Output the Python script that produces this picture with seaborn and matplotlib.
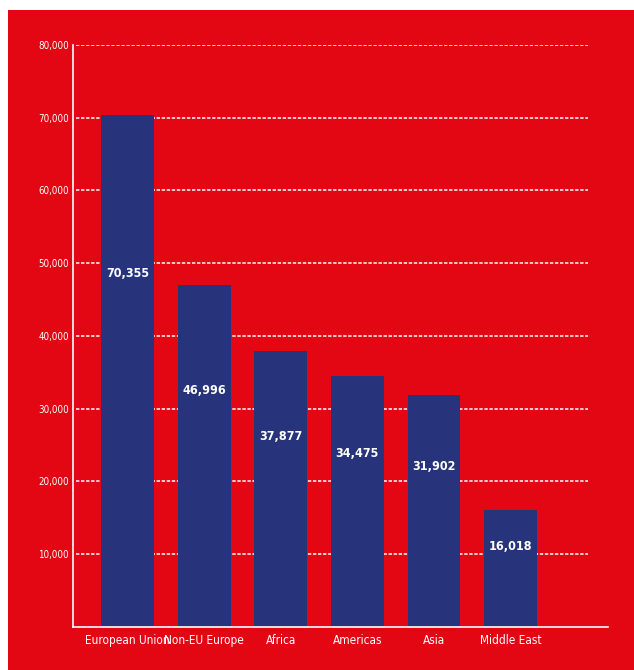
import matplotlib
matplotlib.use("Agg")
import matplotlib.pyplot as plt
from matplotlib.patches import Rectangle
from matplotlib.ticker import FuncFormatter
import pandas as pd
import seaborn as sns

# Data
regions = ["European Union", "Non-EU Europe", "Africa", "Americas", "Asia", "Middle East"]
values = [70355, 46996, 37877, 34475, 31902, 16018]
y_ticks = [10000, 20000, 30000, 40000, 50000, 60000, 70000, 80000]

RED = "#e30713"
NAVY = "#27347b"
WHITE = "#ffffff"
FONT = ["DejaVu Sans"]

df = pd.DataFrame({"region": regions, "value": values})

sns.set_theme(style="white")
plt.rcParams["font.family"] = FONT
plt.rcParams["font.stretch"] = "condensed"

W, H = 634, 670
fig = plt.figure(figsize=(W / 100, H / 100), dpi=100, facecolor="white")

# red panel with a thin white margin at top and left
fig.patches.append(Rectangle((8 / W, 0), 1 - 8 / W, 1 - 10 / H,
                             transform=fig.transFigure, facecolor=RED,
                             edgecolor="none", zorder=-10))

ax = fig.add_axes([72.7 / W, 1 - 626.7 / H, (607.7 - 72.7) / W, (626.7 - 45) / H])
ax.set_zorder(5)
ax.set_facecolor("none")

# dashed horizontal guide lines behind the bars
ax.hlines(y_ticks, xmin=0.006, xmax=0.9626, transform=ax.get_yaxis_transform(),
          colors=WHITE, linewidth=1.1, linestyles=(0, (2.2, 1.1)), zorder=0)

sns.barplot(data=df, x="region", y="value", order=regions, color=NAVY,
            saturation=1, width=0.69, edgecolor="none", ax=ax, zorder=2)

ax.set_xlim(-0.717, 6.268)
ax.set_ylim(0, 80000)
ax.set_yticks(y_ticks)
ax.yaxis.set_major_formatter(FuncFormatter(lambda v, p: f"{int(v):,}"))
ax.set_xlabel("")
ax.set_ylabel("")

for side in ("top", "right"):
    ax.spines[side].set_visible(False)
for side in ("left", "bottom"):
    ax.spines[side].set_color(WHITE)
    ax.spines[side].set_linewidth(1.2)

ax.tick_params(axis="both", length=0, colors=WHITE)
ax.tick_params(axis="y", pad=2.6, labelsize=7)
ax.tick_params(axis="x", pad=5, labelsize=8.5)
for lbl in ax.get_xticklabels() + ax.get_yticklabels():
    lbl.set_fontstretch("condensed")

# value labels inside bars
for i, v in enumerate(values):
    ax.text(i, v * 0.69, f"{v:,}", ha="center", va="center", color=WHITE,
            fontsize=9, fontstretch="condensed", fontweight="bold",
            family=FONT, zorder=3)

fig.savefig("out.png", dpi=100, facecolor=fig.get_facecolor())
